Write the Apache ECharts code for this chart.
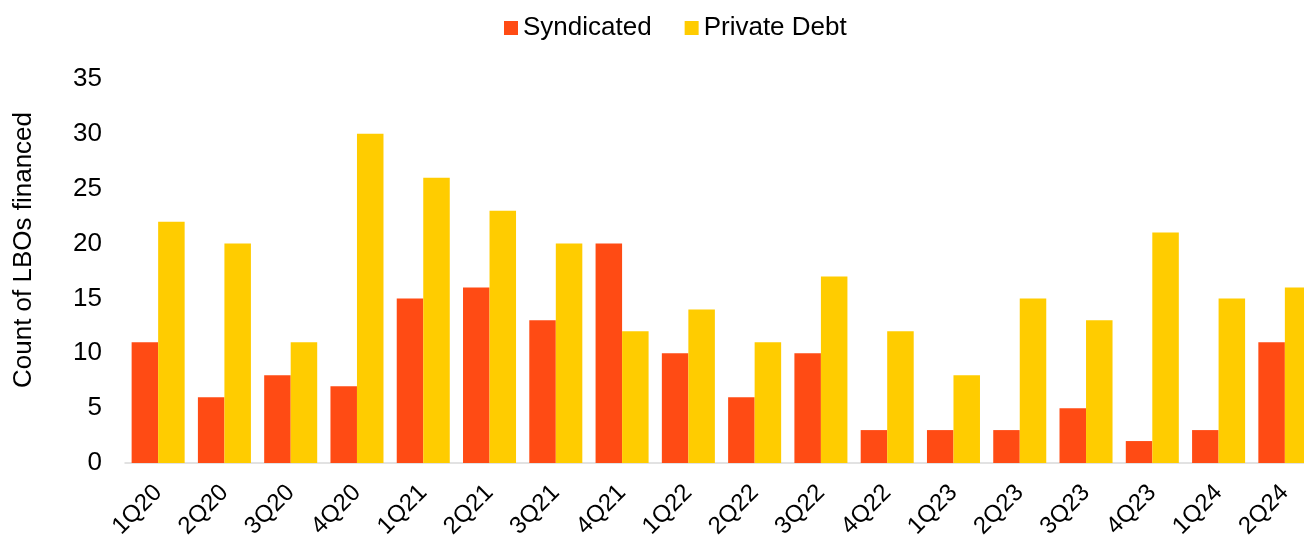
<!DOCTYPE html>
<html>
<head>
<meta charset="utf-8">
<script src="https://cdn.jsdelivr.net/npm/echarts@6/dist/echarts.min.js"></script>
<style>
  html, body { margin: 0; padding: 0; background: #fff; }
  #chart { width: 1304px; height: 540px; }
</style>
</head>
<body>
<div id="chart"></div>
<script>
// Quarterly LBO financing counts
const quarters = ['1Q20','2Q20','3Q20','4Q20','1Q21','2Q21','3Q21','4Q21','1Q22','2Q22','3Q22','4Q22','1Q23','2Q23','3Q23','4Q23','1Q24','2Q24'];
const syndicated = [11, 6, 8, 7, 15, 16, 13, 20, 10, 6, 10, 3, 3, 3, 5, 2, 3, 11];
const privateDebt = [22, 20, 11, 30, 26, 23, 20, 12, 14, 11, 17, 12, 8, 15, 13, 21, 15, 16];

const FONT = 'Liberation Sans, Arial, sans-serif';
const chart = echarts.init(document.getElementById('chart'), null, { renderer: 'canvas' });

chart.setOption({
  animation: false,
  textStyle: { fontFamily: FONT, color: '#000' },
  legend: {
    top: 10,
    left: 499,
    itemWidth: 14,
    itemHeight: 14,
    itemGap: 33,
    icon: 'rect',
    textStyle: { fontFamily: FONT, fontSize: 26, color: '#000' },
    data: ['Syndicated', 'Private Debt']
  },
  grid: {
    left: 125,
    top: 79,
    width: 1193,
    height: 384,
    containLabel: false,
    outerBoundsMode: 'none'
  },
  xAxis: {
    type: 'category',
    data: quarters,
    axisLine: { show: true, lineStyle: { color: '#d9d9d9', width: 1.5 } },
    axisTick: { show: false },
    axisLabel: {
      rotate: 45,
      interval: 0,
      margin: 26,
      fontFamily: FONT,
      fontSize: 24,
      color: '#000'
    }
  },
  yAxis: {
    type: 'value',
    min: 0,
    max: 35,
    interval: 5,
    name: 'Count of LBOs financed',
    nameLocation: 'middle',
    nameGap: 88,
    nameTextStyle: { fontFamily: FONT, fontSize: 26, color: '#000', padding: [0, 0, 0, 42] },
    axisLine: { show: false },
    axisTick: { show: false },
    splitLine: { show: false },
    axisLabel: { fontFamily: FONT, fontSize: 26, color: '#000', margin: 23 }
  },
  series: [
    {
      name: 'Syndicated',
      type: 'bar',
      data: syndicated,
      barGap: '0%',
      barCategoryGap: '20%',
      itemStyle: { color: '#FF4B14' }
    },
    {
      name: 'Private Debt',
      type: 'bar',
      data: privateDebt,
      barGap: '0%',
      barCategoryGap: '20%',
      itemStyle: { color: '#FFCC00' }
    }
  ]
});
</script>
</body>
</html>
